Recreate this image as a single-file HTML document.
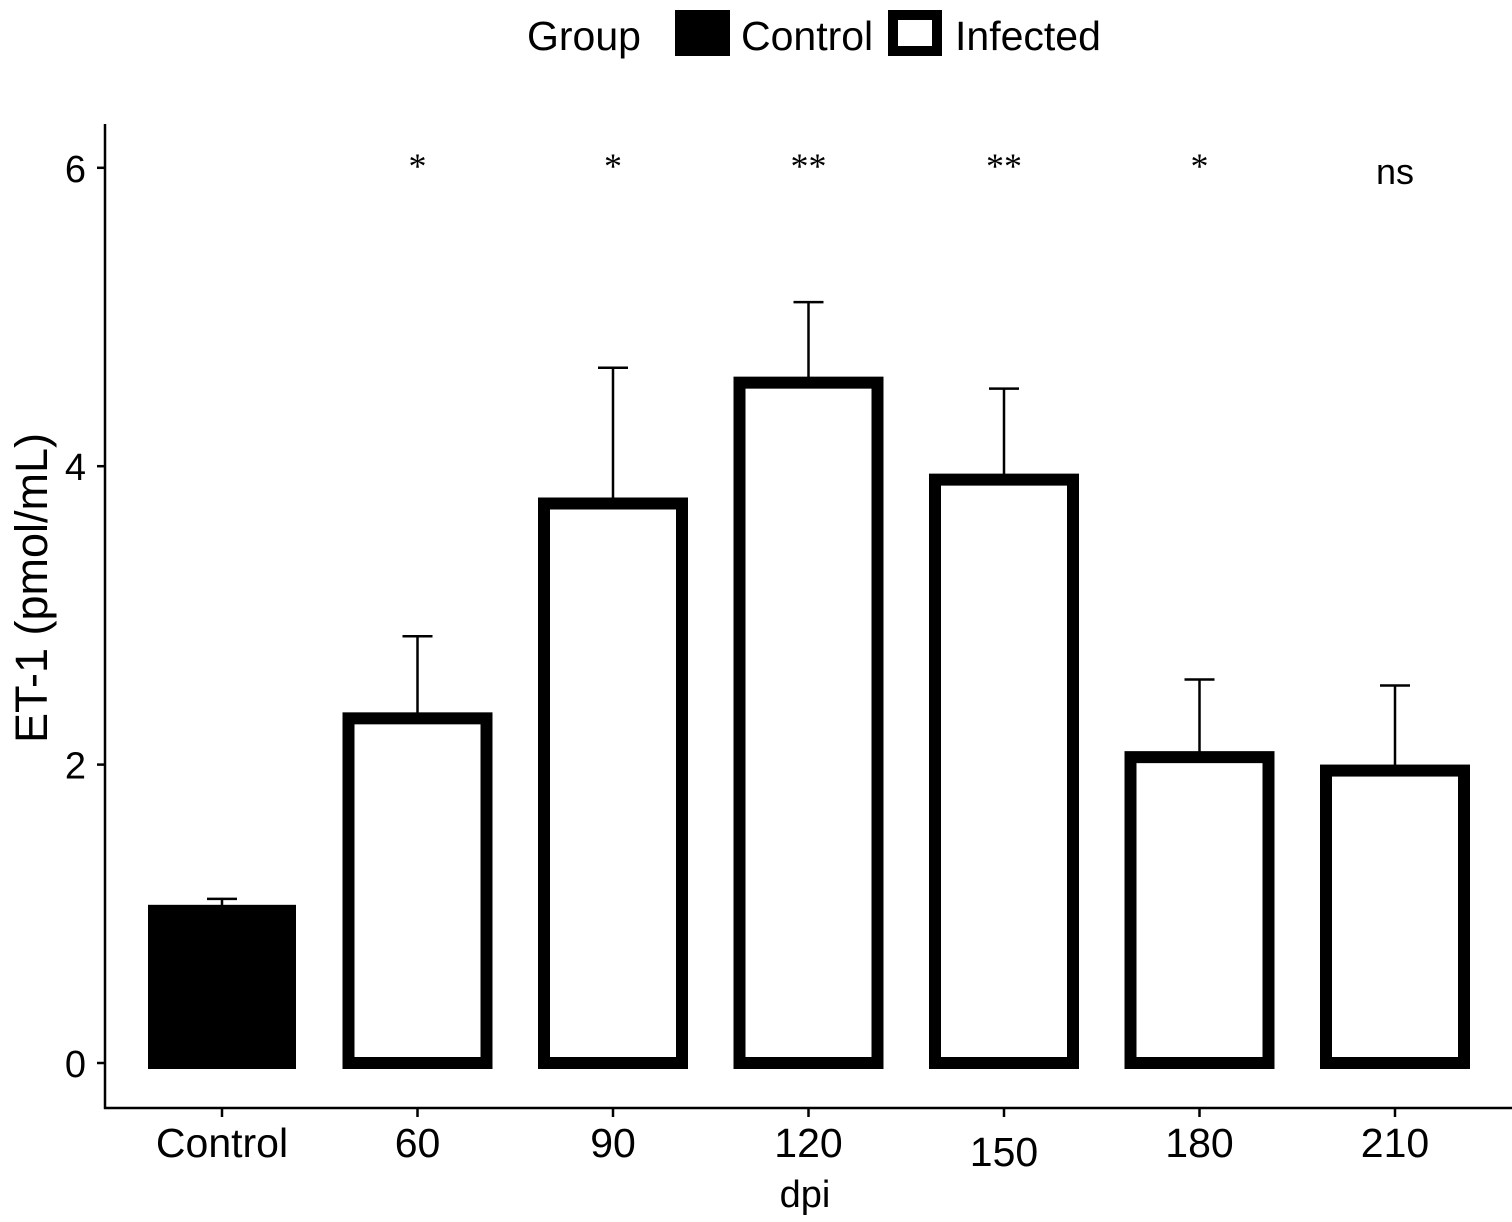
<!DOCTYPE html>
<html><head><meta charset="utf-8"><style>
body{margin:0;background:#fff;}
svg text{font-family:"Liberation Sans",sans-serif;fill:#000;}
</style></head><body>
<svg id="chart" width="1512" height="1217" viewBox="0 0 1512 1217">
<g>
<text x="527" y="50" font-size="41">Group</text>
<rect x="675" y="10" width="55" height="46" fill="#000"/>
<text x="741" y="50" font-size="41">Control</text>
<rect x="893" y="15" width="44" height="36" fill="#fff" stroke="#000" stroke-width="10"/>
<text x="955" y="50" font-size="41">Infected</text>
</g>
<g id="plot"></g>
<line x1="105" y1="124" x2="105" y2="1109" stroke="#000" stroke-width="2.5"/>
<line x1="104" y1="1108" x2="1512" y2="1108" stroke="#000" stroke-width="2.5"/>
<text x="805" y="1207" font-size="38" text-anchor="middle">dpi</text>
<text transform="translate(47,588) rotate(-90)" font-size="45" text-anchor="middle">ET-1 (pmol/mL)</text>
</svg>
<script>
const categories=["Control","60","90","120","150","180","210"];
const groups=["Control","Infected","Infected","Infected","Infected","Infected","Infected"];
const values=[1.02,2.31,3.75,4.56,3.91,2.05,1.96];
const errors=[0.08,0.55,0.91,0.54,0.61,0.52,0.57];
const sigLabels=["","*","*","**","**","*","ns"];
const yTicks=[0,2,4,6];
const NS="http://www.w3.org/2000/svg";
const g=document.getElementById('plot');
const y=v=>1063-v*149.2;
const x=i=>222+i*195.5;
function mk(t,a){const e=document.createElementNS(NS,t);for(const k in a)e.setAttribute(k,a[k]);g.appendChild(e);return e;}
yTicks.forEach(t=>{
 const l=mk('line',{x1:97,x2:105,y1:y(t),y2:y(t),stroke:'#000','stroke-width':2.5});
 
 
 const tx=mk('text',{x:86,y:y(t)+14,'font-size':38,'text-anchor':'end'});tx.textContent=t;
 
 
});
categories.forEach((c,i)=>{
 const cx=x(i);
 const eb=mk('path',{d:`M${cx},${y(values[i])}V${y(values[i]+errors[i])}M${cx-15},${y(values[i]+errors[i])}H${cx+15}`,stroke:'#000','stroke-width':2.5,fill:'none'});
 
 
 let r;
 if(groups[i]==="Control"){
  r=mk('rect',{x:cx-74,y:y(values[i])-6,width:148,height:y(0)-y(values[i])+12,fill:'#000'});
 }else{
  r=mk('rect',{x:cx-69,y:y(values[i]),width:138,height:y(0)-y(values[i]),fill:'#fff',stroke:'#000','stroke-width':12});
 }
 
 
 const tk=mk('line',{x1:cx,x2:cx,y1:1108,y2:1117,stroke:'#000','stroke-width':2.5});
 
 
 const lab=mk('text',{x:cx,y:c==="150"?1166:1157,'font-size':41,'text-anchor':'middle'});lab.textContent=c;
 
 
 if(sigLabels[i]){
  const isNs=sigLabels[i]==="ns";
  const s=mk('text',{x:cx,y:isNs?184:178,'font-size':isNs?36:36,'text-anchor':'middle'});
  if(!isNs)s.setAttribute('style','font-family:"Liberation Serif",serif');
  s.textContent=sigLabels[i];
  
  
 }
});
</script>
</body></html>
